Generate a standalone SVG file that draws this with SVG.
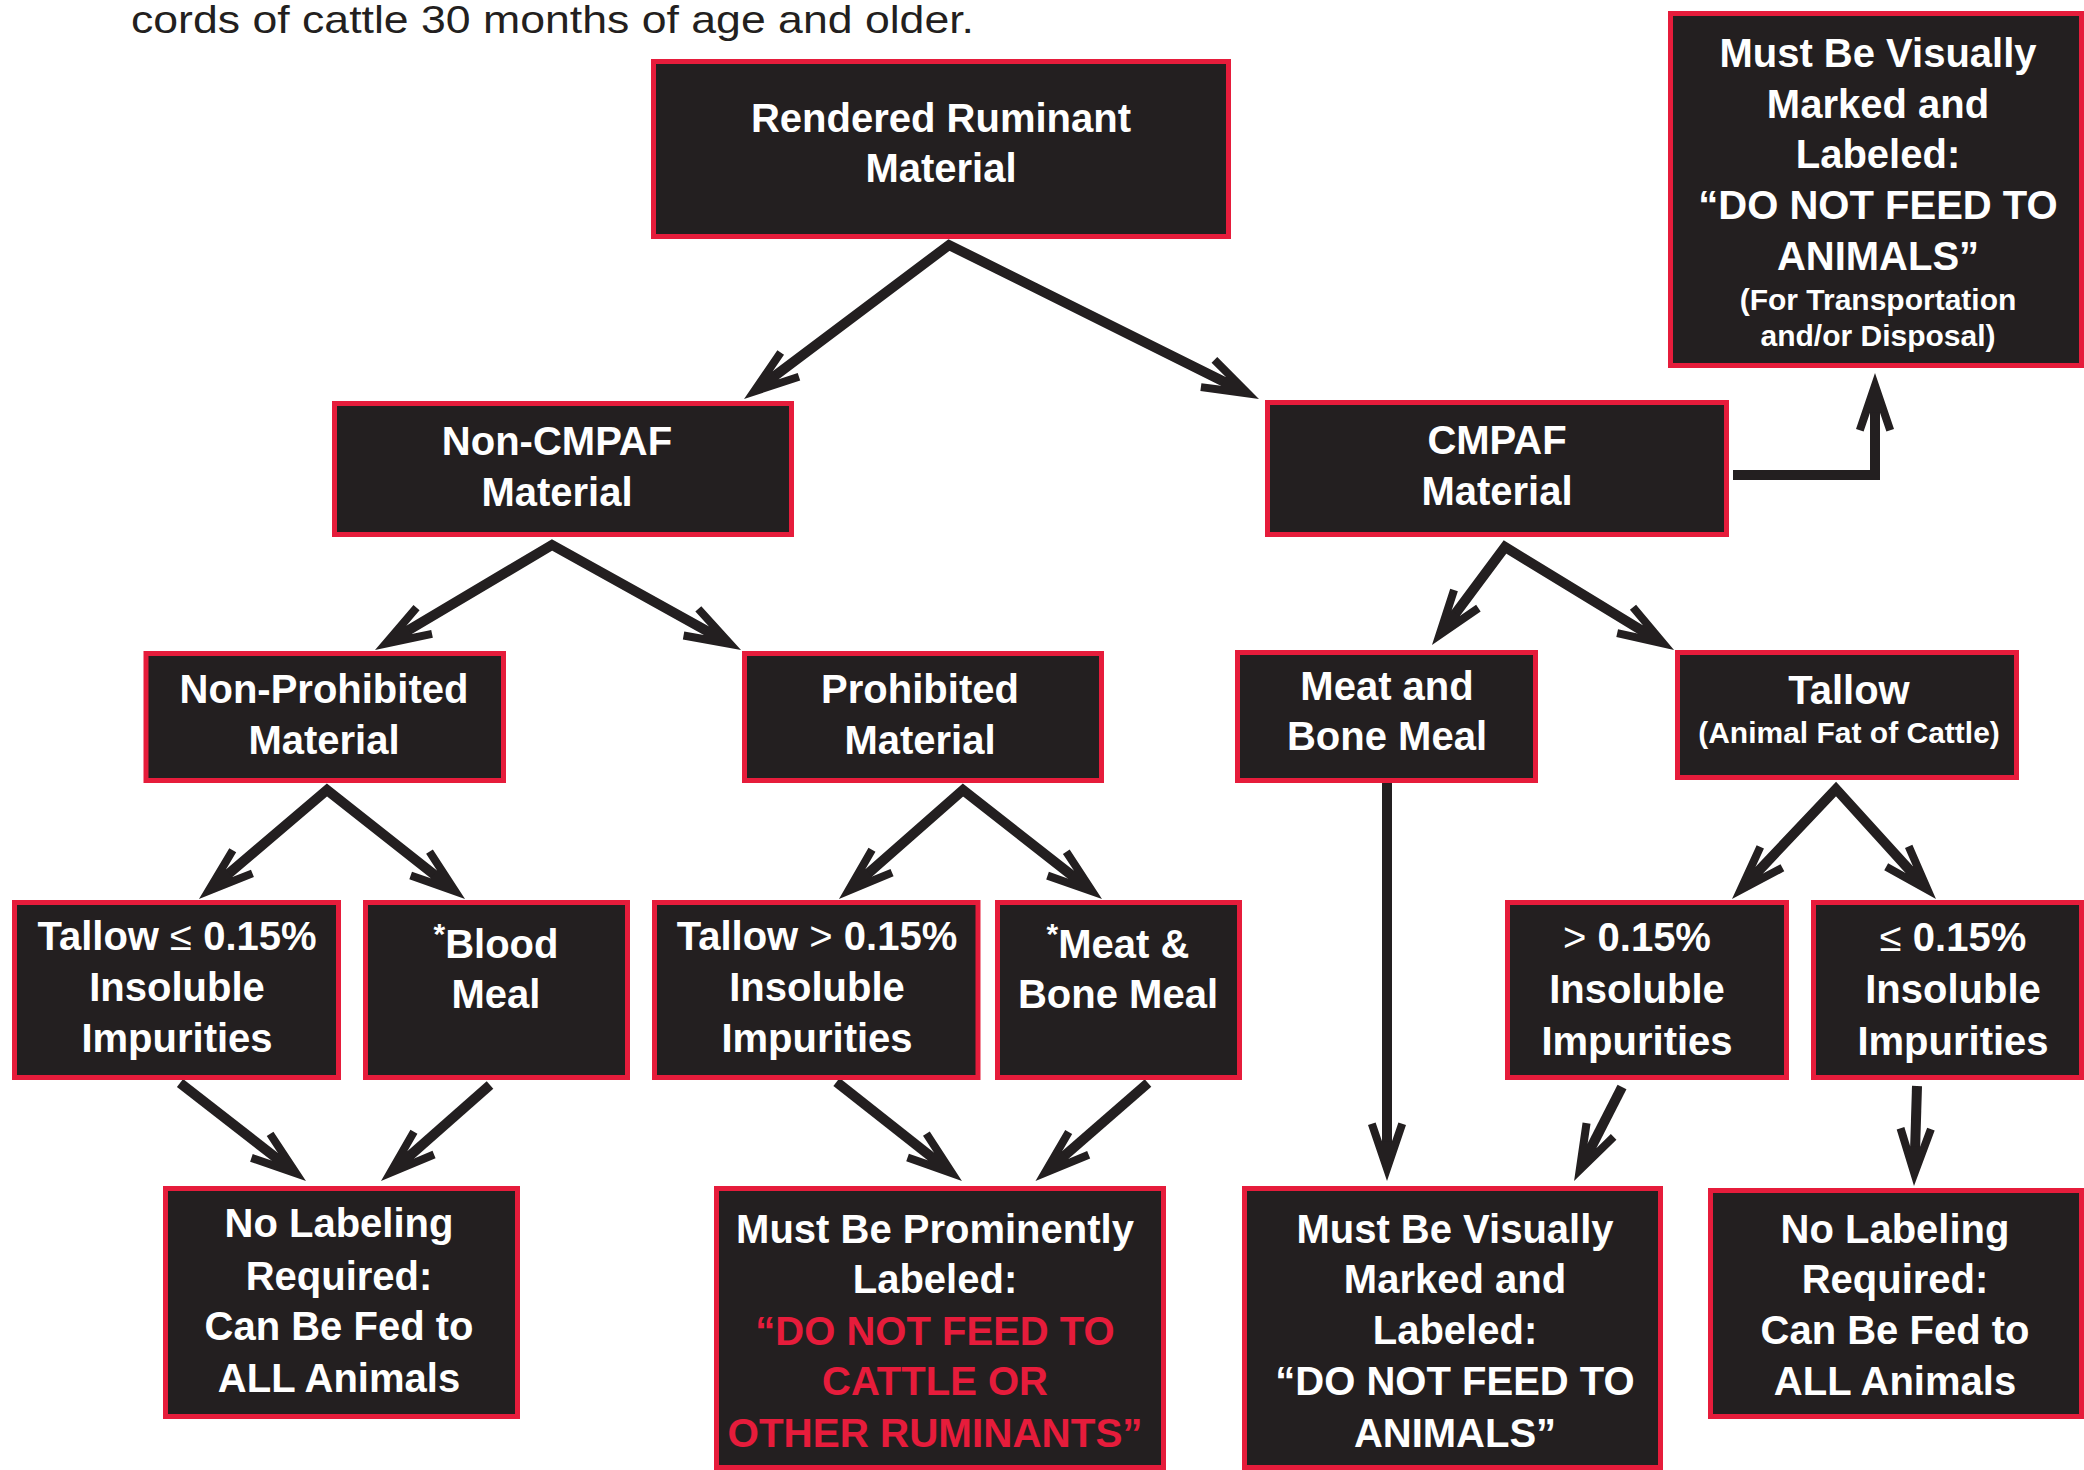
<svg xmlns="http://www.w3.org/2000/svg" width="2084" height="1470" viewBox="0 0 2084 1470">
<defs>
<style>
.box{fill:#231f20;stroke:#e61c3b;stroke-width:5}
.t{font-family:"Liberation Sans",Arial,sans-serif;font-weight:bold;font-size:40px;fill:#ffffff;text-anchor:middle}
.s{font-size:30px}
.red{fill:#e61c3b}
.thin{font-weight:normal}
.conn{stroke:#231f20;stroke-width:10;fill:none;stroke-linejoin:miter;stroke-miterlimit:10}
.hdr{font-family:"Liberation Sans",Arial,sans-serif;font-size:39px;fill:#231f20}
</style>
<marker id="ah" viewBox="0 0 64 44" refX="32" refY="22" markerWidth="64" markerHeight="44" markerUnits="userSpaceOnUse" orient="auto-start-reverse">
<path d="M62,22 L6,3 L3.4,10.6 L22.3,17 L22.3,27 L3.4,33.4 L6,41 Z" fill="#231f20"/>
</marker>
</defs>
<rect width="2084" height="1470" fill="#ffffff"/>
<text class="hdr" x="131" y="33" textLength="843" lengthAdjust="spacingAndGlyphs">cords of cattle 30 months of age and older.</text>

<g id="connectors">
<path class="conn" d="M768,381 L949,245 L1232.1,385.65" marker-start="url(#ah)" marker-end="url(#ah)"/>
<path class="conn" d="M400.8,634.7 L552,545 L714.8,635.4" marker-start="url(#ah)" marker-end="url(#ah)"/>
<path class="conn" d="M221.8,879.5 L327,790 L441.5,880.4" marker-start="url(#ah)" marker-end="url(#ah)"/>
<path class="conn" d="M861.5,879.2 L963,790 L1078.4,880.5" marker-start="url(#ah)" marker-end="url(#ah)"/>
<path class="conn" d="M1449.9,620.9 L1505,547 L1648.4,634.4" marker-start="url(#ah)" marker-end="url(#ah)"/>
<path class="conn" d="M1752.6,877.2 L1836,789 L1915.8,876.8" marker-start="url(#ah)" marker-end="url(#ah)"/>
<path class="conn" d="M1733,475 H1875 V403" marker-end="url(#ah)"/>
<path class="conn" d="M1387,783 V1151" marker-end="url(#ah)"/>
<path class="conn" d="M1622,1087 L1587.7,1154.3" marker-end="url(#ah)"/>
<path class="conn" d="M1917,1086 L1914.9,1156" marker-end="url(#ah)"/>
<path class="conn" d="M180,1083 L282.3,1162.6" marker-end="url(#ah)"/>
<path class="conn" d="M490,1085 L403.5,1161.2" marker-end="url(#ah)"/>
<path class="conn" d="M836.5,1082 L938.4,1162.4" marker-end="url(#ah)"/>
<path class="conn" d="M1148,1083 L1058.1,1161.3" marker-end="url(#ah)"/>
</g>

<g id="rendered">
<rect class="box" x="653.5" y="61.5" width="575" height="175"/>
<text class="t" x="941" y="132">Rendered Ruminant</text>
<text class="t" x="941" y="182">Material</text>
</g>
<g id="non-cmpaf">
<rect class="box" x="334.5" y="403.5" width="457" height="131"/>
<text class="t" x="557" y="455">Non-CMPAF</text>
<text class="t" x="557" y="506">Material</text>
</g>
<g id="cmpaf">
<rect class="box" x="1267.5" y="402.5" width="459" height="132"/>
<text class="t" x="1497" y="454">CMPAF</text>
<text class="t" x="1497" y="505">Material</text>
</g>
<g id="disposal">
<rect class="box" x="1670.5" y="13.5" width="411" height="352"/>
<text class="t" x="1878" y="67">Must Be Visually</text>
<text class="t" x="1878" y="118">Marked and</text>
<text class="t" x="1878" y="168">Labeled:</text>
<text class="t" x="1878" y="219">“DO NOT FEED TO</text>
<text class="t" x="1878" y="270">ANIMALS”</text>
<text class="t s" x="1878" y="310">(For Transportation</text>
<text class="t s" x="1878" y="346">and/or Disposal)</text>
</g>
<g id="non-prohibited">
<rect class="box" x="146" y="653.5" width="357.5" height="127"/>
<text class="t" x="324" y="703">Non-Prohibited</text>
<text class="t" x="324" y="754">Material</text>
</g>
<g id="prohibited">
<rect class="box" x="744.5" y="653.5" width="357" height="127"/>
<text class="t" x="920" y="703">Prohibited</text>
<text class="t" x="920" y="754">Material</text>
</g>
<g id="meat-bone-meal">
<rect class="box" x="1237.5" y="652.5" width="298" height="128"/>
<text class="t" x="1387" y="700">Meat and</text>
<text class="t" x="1387" y="750">Bone Meal</text>
</g>
<g id="tallow">
<rect class="box" x="1677.5" y="652.5" width="339" height="125"/>
<text class="t" x="1849" y="704">Tallow</text>
<text class="t s" x="1849" y="743">(Animal Fat of Cattle)</text>
</g>
<g id="tallow-le">
<rect class="box" x="14.5" y="902.5" width="324" height="175"/>
<text class="t" x="177" y="950">Tallow <tspan class="thin">≤</tspan> 0.15%</text>
<text class="t" x="177" y="1001">Insoluble</text>
<text class="t" x="177" y="1052">Impurities</text>
</g>
<g id="blood-meal">
<rect class="box" x="365.5" y="902.5" width="262" height="175"/>
<text class="t" x="496" y="958"><tspan font-size="30" dy="-14">*</tspan><tspan dy="14">Blood</tspan></text>
<text class="t" x="496" y="1008">Meal</text>
</g>
<g id="tallow-gt">
<rect class="box" x="654.5" y="902.5" width="323.5" height="175"/>
<text class="t" x="817" y="950">Tallow <tspan class="thin">&gt;</tspan> 0.15%</text>
<text class="t" x="817" y="1001">Insoluble</text>
<text class="t" x="817" y="1052">Impurities</text>
</g>
<g id="meat-bone-prohibited">
<rect class="box" x="997.5" y="902.5" width="242" height="175"/>
<text class="t" x="1118" y="958"><tspan font-size="30" dy="-14">*</tspan><tspan dy="14">Meat &amp;</tspan></text>
<text class="t" x="1118" y="1008">Bone Meal</text>
</g>
<g id="gt-015">
<rect class="box" x="1507.5" y="902.5" width="279" height="175"/>
<text class="t" x="1637" y="951"><tspan class="thin">&gt;</tspan> 0.15%</text>
<text class="t" x="1637" y="1003">Insoluble</text>
<text class="t" x="1637" y="1055">Impurities</text>
</g>
<g id="le-015">
<rect class="box" x="1813.5" y="902.5" width="268" height="175"/>
<text class="t" x="1953" y="951"><tspan class="thin">≤</tspan> 0.15%</text>
<text class="t" x="1953" y="1003">Insoluble</text>
<text class="t" x="1953" y="1055">Impurities</text>
</g>
<g id="no-label-1">
<rect class="box" x="165.5" y="1188.5" width="352" height="228"/>
<text class="t" x="339" y="1237">No Labeling</text>
<text class="t" x="339" y="1290">Required:</text>
<text class="t" x="339" y="1340">Can Be Fed to</text>
<text class="t" x="339" y="1392">ALL Animals</text>
</g>
<g id="prominently">
<rect class="box" x="716.5" y="1188.5" width="447" height="279"/>
<text class="t" x="935" y="1243">Must Be Prominently</text>
<text class="t" x="935" y="1293">Labeled:</text>
<text class="t red" x="935" y="1345">“DO NOT FEED TO</text>
<text class="t red" x="935" y="1395">CATTLE OR</text>
<text class="t red" x="935" y="1447" textLength="415" lengthAdjust="spacingAndGlyphs">OTHER RUMINANTS”</text>
</g>
<g id="visually">
<rect class="box" x="1244.5" y="1188.5" width="416" height="279"/>
<text class="t" x="1455" y="1243">Must Be Visually</text>
<text class="t" x="1455" y="1293">Marked and</text>
<text class="t" x="1455" y="1344">Labeled:</text>
<text class="t" x="1455" y="1395">“DO NOT FEED TO</text>
<text class="t" x="1455" y="1447">ANIMALS”</text>
</g>
<g id="no-label-2">
<rect class="box" x="1710.5" y="1190.5" width="371" height="226"/>
<text class="t" x="1895" y="1243">No Labeling</text>
<text class="t" x="1895" y="1293">Required:</text>
<text class="t" x="1895" y="1344">Can Be Fed to</text>
<text class="t" x="1895" y="1395">ALL Animals</text>
</g>
</svg>
